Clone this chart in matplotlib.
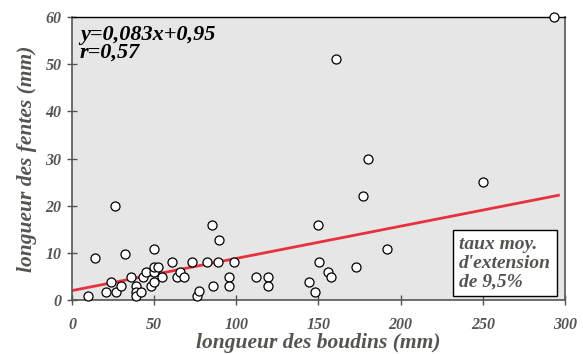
import matplotlib
matplotlib.use("Agg")
import matplotlib.pyplot as plt

# longueur des boudins (mm) / longueur des fentes (mm)
boudins = [10, 14, 26, 20.5, 24, 27, 30, 32, 36, 39, 39, 39, 42, 43, 45, 48, 50,
           50, 50, 50, 52.5, 55, 60.7, 63.7, 65.5, 68, 73, 76, 77, 82, 85.6, 85,
           89.7, 88.7, 95.5, 95.5, 98.3, 112, 119.5, 119, 144, 148, 149.7, 150.5,
           156, 157.5, 172.7, 180.3, 177.3, 191.9, 250.2, 160.7, 293.5]
fentes = [0.8, 9, 20, 1.8, 3.9, 1.8, 2.9, 9.7, 4.9, 2.9, 1.8, 0.8, 1.8, 4.9, 5.9,
          2.9, 3.9, 5.9, 7, 10.8, 7, 4.9, 8, 4.9, 5.9, 4.9, 8, 0.8, 1.9, 8, 2.9,
          15.9, 12.8, 8, 4.9, 2.9, 8, 4.9, 4.9, 2.9, 3.9, 1.8, 15.9, 8, 5.9, 4.9,
          7, 29.9, 22, 10.8, 25.1, 51, 60]

# droite de regression telle que tracee
fit_x = [0, 296]
fit_y = [2.0, 22.2]

equation = "y=0,083x+0,95\nr=0,57"
box_text = "taux moy.\nd'extension\nde 9,5%"

GREY = "#555550"
plt.rcParams["font.family"] = ["Liberation Serif", "DejaVu Serif"]

fig = plt.figure(figsize=(5.83, 3.54), dpi=100)
ax = fig.add_axes([0.1235, 0.1525, 0.8455, 0.7995])
ax.set_facecolor("#e6e6e6")

ax.plot(fit_x, fit_y, color="#e8303f", lw=2.0, zorder=2)
ax.plot(boudins, fentes, "o", ms=6.5, mfc="white", mec="black", mew=0.9,
        zorder=3, clip_on=False)

ax.set_xlim(0, 300)
ax.set_ylim(0, 60)
ax.set_xticks(range(0, 301, 50))
ax.set_yticks(range(0, 61, 10))

for s in ["left", "bottom", "right"]:
    ax.spines[s].set_color(GREY)
    ax.spines[s].set_linewidth(1.2)
ax.spines["top"].set_color("black")
ax.spines["top"].set_linewidth(1.0)

ax.tick_params(axis="both", direction="inout", length=7, width=1.0, color=GREY,
               labelcolor=GREY, labelsize=11.5)
ax.tick_params(axis="x", pad=9)
ax.tick_params(axis="y", pad=4)
for lab in ax.get_xticklabels() + ax.get_yticklabels():
    lab.set_fontweight("bold")
    lab.set_fontstyle("italic")

ax.set_xlabel("longueur des boudins (mm)", fontsize=15.5, fontweight="bold",
              fontstyle="italic", color=GREY, labelpad=0)
ax.set_ylabel("longueur des fentes (mm)", fontsize=15.5, fontweight="bold",
              fontstyle="italic", color=GREY, labelpad=6)

ax.text(0.016, 0.97, equation, transform=ax.transAxes, ha="left", va="top",
        fontsize=16, fontweight="bold", fontstyle="italic", color="black",
        linespacing=0.8)

ax.text(0.785, 0.035, box_text, transform=ax.transAxes, ha="left", va="bottom",
        fontsize=14, fontweight="bold", fontstyle="italic", color=GREY,
        linespacing=1.12,
        bbox=dict(boxstyle="square,pad=0.3", fc="white", ec="black", lw=1.0))

fig.savefig("out.png", dpi=100)
